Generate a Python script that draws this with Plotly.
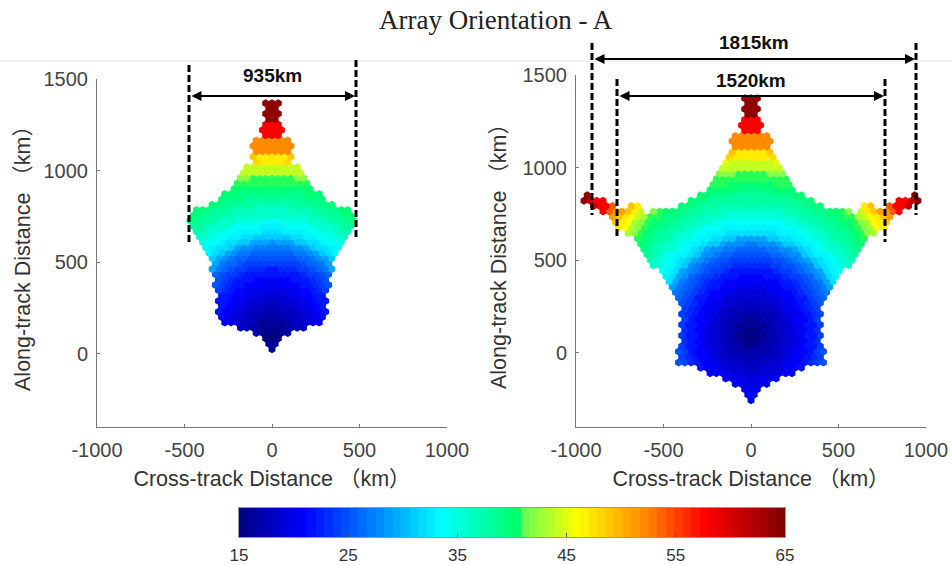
import plotly.graph_objects as go

W, H = 952, 565
_ = None

TITLE = "Array Orientation - A"
X_TITLE = "Cross-track Distance （km）"
Y_TITLE = "Along-track Distance （km）"
X_TICKS = [-1000, -500, 0, 500, 1000]
X_LABELS = ["-1000", "-500", "0", "500", "1000"]
Y_TICKS = [0, 500, 1000, 1500]
CBAR_TICKS = [15, 25, 35, 45, 55, 65]

X_STEP_KM = 36
LEFT_Y0, LEFT_DY = 25, 29.2
RIGHT_Y0, RIGHT_DY = -255, 29.1

# Rows bottom-to-top; each row lists values from the centre line outward (swath is symmetric).
# Even rows start at x=0, odd rows at half a step.
LEFT_ROWS = [
 [16],[16],[15,15],[15,16,17],[16,16,16,17,18,18],
 [16,16,17,18,18,19,20,20],[17,17,17,18,18,19,19,20,21],[17,18,18,18,19,19,20,21,22],
 [18,18,18,19,19,20,20,21,22],[18,19,19,19,20,20,21,22,22],[19,19,19,20,20,21,21,22,22],
 [20,20,20,20,21,21,22,23,24],[20,20,21,21,21,22,22,23,24,25],[21,21,21,22,22,22,23,24,25],
 [22,22,22,22,22,23,24,24,25,26],[22,23,23,23,24,24,25,26,27,29],[24,24,24,24,24,25,26,26,27,29],
 [25,25,25,25,26,26,27,28,29,31],[26,26,26,26,27,27,28,29,31,32,33],[27,27,27,28,28,29,31,32,32,33,34],
 [28,29,29,29,31,31,32,32,33,34,34,35],[31,31,31,32,32,33,33,34,34,35,36,36],
 [32,32,33,33,33,33,34,34,35,35,36,37,37],[33,33,34,34,34,34,35,36,36,36,37,38,38],
 [34,34,35,35,35,35,36,36,36,37,38,38,39,39],[36,36,36,36,36,36,37,37,38,38,38,39,40],
 [36,36,36,37,37,37,37,38,38,38,39,40,40],[37,37,37,38,38,38,38,39,39,40],
 [38,38,38,38,38,39,39,39,40],[39,39,39,39,39,40,40,40],[40,40,40,40,40,40,40],
 [41,41,41,41,41,41],[41,41,41,41,42,42],[44,44,44,44,44],[44,44,44,44,44],
 [47,47,48],[47,47,47,49],[52,52,52],[52,52,52,52],[52,52,52],
 [58,58],[58,58],[58,58],[64],[64,64],[64],[64,64],
]

RIGHT_ROWS = [
 [21],[21],[20,20],[20,20,20],[19,20,20,20,21],[19,19,19,20,20,21,21],
 [18,18,19,19,19,20,21,21,22],[18,18,18,19,19,20,20,21,22,23,24,25],
 [17,17,18,18,18,19,20,21,21,22,23,24],[17,17,17,18,18,19,20,21,21,22,24,25],
 [16,16,17,17,18,19,19,20,21,22,22,24],[15,16,17,17,18,19,19,20,21,22,23],
 [15,15,16,17,18,18,19,20,21,22,22,24],[15,16,17,17,18,19,19,20,21,22,23],
 [16,16,16,17,18,18,19,20,21,22,22,24],[16,17,17,18,18,19,20,21,21,22,24],
 [17,17,17,18,18,19,20,20,21,22,23,24],[18,18,18,18,19,20,20,21,22,23,24],
 [18,18,18,19,19,20,20,21,22,23,24,25],[19,19,19,19,20,21,21,22,22,24,25,26],
 [19,19,19,20,20,21,21,22,23,24,25,26,27],[20,20,20,21,21,22,22,23,24,25,26,27,29],
 [21,21,21,21,21,22,22,23,24,25,26,27,29,32],[21,21,22,22,22,23,24,24,25,26,28,29,32,33],
 [22,22,22,22,23,24,24,25,26,27,28,29,32,33,34],[23,23,23,24,24,25,25,26,27,28,31,32,33,34,35,36],
 [24,24,24,24,25,25,26,27,28,29,31,32,33,34,35,36,37],[25,25,25,26,26,27,28,28,31,32,33,33,34,35,36,37,38],
 [26,26,26,27,27,28,28,29,31,32,33,34,35,36,36,37,38,39],[27,28,28,28,29,31,31,32,33,33,34,35,36,36,37,38,39,40],
 [29,29,29,31,31,32,32,33,33,34,35,35,36,37,38,38,39,40,41],
 [32,32,32,32,33,33,33,34,34,35,36,36,37,38,38,39,40,41,42,43],
 [33,33,33,33,33,34,34,34,35,36,36,37,38,38,39,39,40,41,42,43,46,47],
 [34,34,34,34,34,35,35,36,36,37,37,38,38,39,40,40,41,42,43,46,47,49],
 [35,35,35,35,35,36,36,36,37,37,38,38,39,39,40,41,41,43,44,46,47,49,51],
 [36,36,36,36,36,37,37,37,38,38,39,39,40,40,41,42,_,44,47,49,51,51,54,58],
 [37,37,37,37,37,37,38,38,38,39,39,40,_,_,_,_,_,_,47,49,_,_,54,58,58,61],
 [38,38,38,38,38,38,38,39,39,40,_,_,_,_,_,_,_,_,_,_,_,_,_,58,58,61,64],
 [38,38,38,38,39,39,39,40,40,_,_,_,_,_,_,_,_,_,_,_,_,_,_,_,_,_,64],
 [39,39,40,40,40,40,40],[40,40,40,40,41,41,41],[41,41,41,41,41,41],[41,41,41,42,42,42],
 [44,44,44,44,44],[44,44,44,44,45],[47,47,47,48],[47,47,47,49],[52,52,52],[52,52,52,52],[52,52,52],
 [58,58],[58,58],[58,58],[64],[64,64],[64],[64,64],
]


def expand(rows, y0, dy):
    xs, ys, vs = [], [], []
    for k, row in enumerate(rows):
        start = 0 if k % 2 == 0 else X_STEP_KM / 2
        for n, v in enumerate(row):
            if v is None:
                continue
            x = start + n * X_STEP_KM
            xs.append(x); ys.append(y0 + k * dy); vs.append(v)
            if x != 0:
                xs.append(-x); ys.append(y0 + k * dy); vs.append(v)
    return xs, ys, vs


def fx(px): return px / W
def fy(py): return 1 - py / H


def stop(v): return (v - 15) / 50

COLORSCALE = [
    [stop(15), "rgb(0,0,130)"], [stop(21), "rgb(0,0,255)"], [stop(33.6), "rgb(0,255,255)"],
    [stop(40.9), "rgb(0,255,96)"], [stop(41.2), "rgb(112,255,80)"], [stop(46), "rgb(255,255,0)"],
    [stop(52), "rgb(255,140,0)"], [stop(57.7), "rgb(255,0,0)"], [stop(65), "rgb(128,0,0)"],
]

FONT = "Liberation Sans, Noto Sans CJK SC, sans-serif"
fig = go.Figure()
for rows, y0, dy, xa, ya in [(LEFT_ROWS, LEFT_Y0, LEFT_DY, "x", "y"), (RIGHT_ROWS, RIGHT_Y0, RIGHT_DY, "x2", "y2")]:
    xs, ys, vs = expand(rows, y0, dy)
    fig.add_trace(go.Scatter(x=xs, y=ys, mode="markers", xaxis=xa, yaxis=ya, showlegend=False, cliponaxis=False,
                             marker=dict(symbol="hexagon", size=8, color=vs, coloraxis="coloraxis", line=dict(width=0))))

# Colour bar as a strip of 64 levels
CBAR_LEVELS = [15 + (i + 0.5) * 50 / 64 for i in range(64)]
fig.add_trace(go.Heatmap(x=CBAR_LEVELS, y=[0], z=[CBAR_LEVELS], coloraxis="coloraxis", xaxis="x3", yaxis="y3"))

axis_common = dict(showgrid=False, zeroline=False, showline=True, linecolor="#777", linewidth=1, automargin=False,
                   ticks="inside", ticklen=3, tickcolor="#777", tickfont=dict(family=FONT, size=20, color="#444"),
                   title_font=dict(family=FONT, size=21.5, color="#333"), mirror=False)

fig.update_layout(
    width=W, height=H, autosize=False, margin=dict(l=0, r=0, t=0, b=0),
    paper_bgcolor="white", plot_bgcolor="white",
    xaxis=dict(domain=[fx(97), fx(447)], range=[-1000, 1000], tickvals=X_TICKS, ticktext=X_LABELS, anchor="y",
               ticklabelstandoff=5, title=dict(text=X_TITLE, standoff=10), **axis_common),
    yaxis=dict(domain=[fy(427), fy(79)], range=[-400, 1500], tickvals=Y_TICKS, anchor="x",
               ticklabelstandoff=4, title=dict(text=Y_TITLE, standoff=6), **axis_common),
    xaxis2=dict(domain=[fx(576), fx(926)], range=[-1000, 1000], tickvals=X_TICKS, ticktext=X_LABELS, anchor="y2",
                ticklabelstandoff=5, title=dict(text=X_TITLE, standoff=10), **axis_common),
    yaxis2=dict(domain=[fy(427), fy(75)], range=[-400, 1500], tickvals=Y_TICKS, anchor="x2",
                ticklabelstandoff=4, title=dict(text=Y_TITLE, standoff=9), **axis_common),
    xaxis3=dict(domain=[fx(239), fx(785)], range=[15, 65], tickvals=CBAR_TICKS, anchor="y3", ticks="inside", ticklen=4,
                tickcolor="#555", showgrid=False, zeroline=False, automargin=False, mirror=True, showline=True, linecolor="#999",
                ticklabelstandoff=3, tickfont=dict(family=FONT, size=17, color="#333")),
    yaxis3=dict(domain=[fy(537), fy(508)], range=[-0.5, 0.5], anchor="x3", showticklabels=False, ticks="", showgrid=False,
                zeroline=False, automargin=False, mirror=True, showline=True, linecolor="#999"),
    coloraxis=dict(cmin=15, cmax=65, colorscale=COLORSCALE, showscale=False),
)

shapes = [dict(type="line", xref="paper", yref="paper", x0=0, x1=1, y0=fy(61), y1=fy(61),
               line=dict(color="#e6e6e6", width=1), layer="below")]
for px, py0, py1 in [(189, 65, 243), (356, 60, 237), (592, 43, 215), (916, 43, 215), (617, 79, 238), (885, 79, 242)]:
    shapes.append(dict(type="line", xref="paper", yref="paper", x0=fx(px), x1=fx(px), y0=fy(py0), y1=fy(py1),
                       line=dict(color="black", width=3, dash="7px,3px")))
fig.update_layout(shapes=shapes)

annos = [dict(text=TITLE, x=fx(496), y=fy(20), xref="paper", yref="paper", showarrow=False, xanchor="center", yanchor="middle",
              font=dict(family="Liberation Serif, serif", size=27, color="#222"))]
for label, px0, px1, py, ty in [("935km", 190, 355, 96, 76), ("1815km", 593, 915, 59, 42), ("1520km", 618, 884, 96, 80)]:
    annos.append(dict(text=label, x=fx((px0 + px1) / 2), y=fy(ty), xref="paper", yref="paper", showarrow=False,
                      xanchor="center", yanchor="middle",
                      font=dict(family=FONT, size=19, color="#111", weight="bold")))
    annos.append(dict(text="", x=fx(px1), y=fy(py), xref="paper", yref="paper", ax=px0 - px1, ay=0, showarrow=True,
                      arrowhead=2, arrowside="end+start", arrowsize=1, arrowwidth=2, arrowcolor="black",
                      startarrowhead=2, startarrowsize=1, standoff=0, startstandoff=0))
fig.update_layout(annotations=annos)

fig.write_html("out.html", config=dict(displayModeBar=False), post_script="document.body.style.margin='0';")
